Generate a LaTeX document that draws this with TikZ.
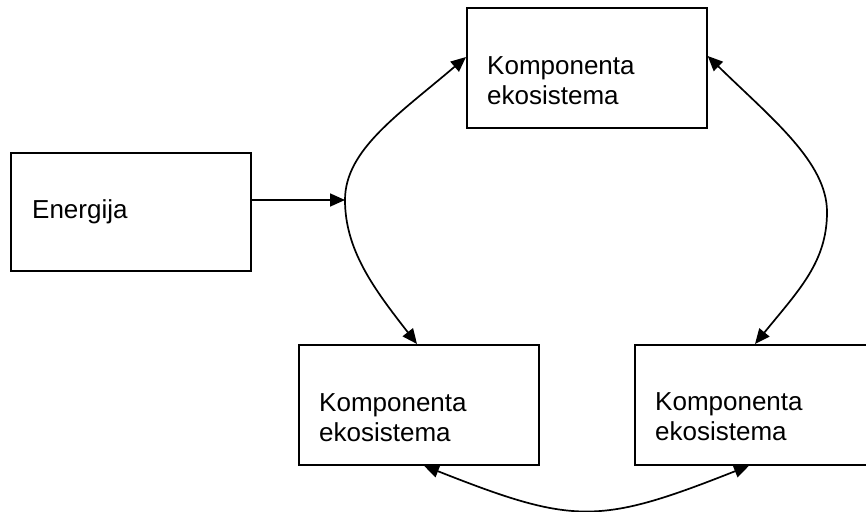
\documentclass[tikz,border=0pt]{standalone}
\usepackage{fontspec}
\setmainfont{Liberation Sans}
\usetikzlibrary{arrows.meta,calc}
\begin{document}
\begin{tikzpicture}[x=1pt,y=-1pt,
  box/.style={draw,line width=1.7pt,minimum width=240pt,minimum height=120pt,
    inner sep=0pt,anchor=north west},
  lbl/.style={anchor=base west,align=left,inner sep=0pt,
    font=\fontsize{26}{30}\selectfont},
  tip/.tip={Triangle[length=15pt,width=13pt]},
  link/.style={line width=1.7pt,tip-tip},
  feed/.style={line width=1.7pt,-tip}]
  \useasboundingbox (0,0) rectangle (866,511);
  \clip (0,0) rectangle (866,511);

  % boxes (the right-hand one runs past the page edge)
  \node[box] (top) at (466,7) {};
  \node[box,minimum height=118pt] (en) at (10,152) {};
  \node[box] (bl) at (298,344) {};
  \node[box,minimum width=260pt] (br) at (634,344) {};

  % labels
  \node[lbl] at ($(top.north west)+(21,97)$) {Komponenta\\ekosistema};
  \node[lbl] at ($(en.north west)+(22,66)$) {Energija};
  \node[lbl] at ($(bl.north west)+(21,97)$) {Komponenta\\ekosistema};
  \node[lbl] at ($(br.north west)+(21,96)$) {Komponenta\\ekosistema};

  % turning points of the side cycles
  \coordinate (meet) at (345,200);
  \coordinate (bend) at (827,212);

  % left exchange: top <-> bottom left, fed by energy
  \draw[link] ($(top.north west)+(0,50)$)
      .. controls (398,115) and (345,150) .. (meet)
      .. controls (345,250) and (374,289) .. ($(bl.north west)+(119,0)$);
  % right exchange: top <-> bottom right
  \draw[link] ($(top.north east)+(0,49)$)
      .. controls (771,118) and (827,162) .. (bend)
      .. controls (827,262) and (799,290) .. ($(br.north west)+(121,0)$);
  % bottom exchange
  \draw[link] ($(bl.south west)+(126,0)$)
      .. controls (574,525) and (599,525) .. ($(br.south west)+(115,0)$);
  % energy input
  \draw[feed] ($(en.north east)+(0,48)$) -- (meet);
\end{tikzpicture}
\end{document}
